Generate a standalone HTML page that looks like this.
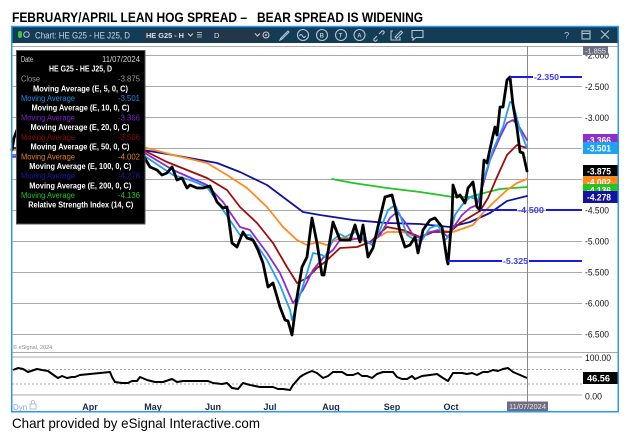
<!DOCTYPE html>
<html><head><meta charset="utf-8"><style>
html,body{margin:0;padding:0;background:#fff;}
svg{display:block;}
text{font-family:"Liberation Sans",Arial,sans-serif;}
</style></head><body>
<svg width="636" height="443" viewBox="0 0 636 443" xmlns="http://www.w3.org/2000/svg">
<rect width="636" height="443" fill="#fff"/>
<!-- Title -->
<text x="12" y="22" font-size="14" font-weight="bold" fill="#000" textLength="235" lengthAdjust="spacingAndGlyphs">FEBRUARY/APRIL LEAN HOG SPREAD –</text>
<text x="257" y="22" font-size="14" font-weight="bold" fill="#000" textLength="166" lengthAdjust="spacingAndGlyphs">BEAR SPREAD IS WIDENING</text>

<!-- window -->
<rect x="12" y="26.5" width="606" height="385" fill="#fff"/>
<rect x="12" y="26.5" width="606" height="16.5" fill="#133d57"/>

<!-- header content -->
<rect x="18" y="31" width="4" height="7" rx="2" fill="#39c739"/>
<circle cx="26.5" cy="34.5" r="2.8" fill="none" stroke="#b7c4cf" stroke-width="1"/>
<text x="35" y="38.3" font-size="9.5" fill="#c8d5de" textLength="95" lengthAdjust="spacingAndGlyphs">Chart: HE G25 - HE J25, D</text>
<rect x="143" y="29" width="63" height="12" fill="#22374a"/>
<text x="146" y="37.8" font-size="7.5" font-weight="bold" fill="#d8e0e8" textLength="38" lengthAdjust="spacingAndGlyphs">HE G25 - H</text>
<path d="M188 33.5 l2.5 2.5 l2.5 -2.5" fill="none" stroke="#c8d5de" stroke-width="1"/>
<path d="M197 32.5 h5 M197 34.8 h5 M197 37 h5" stroke="#c8d5de" stroke-width="0.8"/>
<rect x="210" y="29" width="60" height="12" fill="#22374a"/>
<text x="214" y="37.8" font-size="7.5" fill="#d8e0e8">D</text>
<path d="M255 33.5 l2.5 2.5 l2.5 -2.5" fill="none" stroke="#c8d5de" stroke-width="1"/>
<circle cx="266" cy="35" r="3" fill="none" stroke="#c8d5de" stroke-width="1"/>
<circle cx="266" cy="35" r="1" fill="#c8d5de"/>
<g fill="none" stroke="#b7c4cf" stroke-width="1.1">
<path d="M280 40 l2 -1 l7 -7 l-1 -1 l-7 7 z"/>
<circle cx="303" cy="35" r="5.5"/>
<path d="M299.5 36 q1.5 -3 3 0 q1.5 3 3 0"/>
<circle cx="322" cy="35" r="5.5"/>
<circle cx="341" cy="35" r="5.5"/>
<circle cx="359.5" cy="35" r="5.5"/>
<path d="M374 39 l3 -3 M379 34 l3 -3 M375.5 37.5 l-1.5 1.5 a1.5 1.5 0 0 0 2 2 l1.5 -1.5 M380.5 32.5 l1.5 -1.5 a1.5 1.5 0 0 1 2 2 l-1.5 1.5"/>
<path d="M393 31 h-2 v9 h9 v-3 M395 37 l6 -6 l1.5 1.5 l-6 6 z"/>
<path d="M412 30.5 h11 v7 h-7 l-3 2.5 v-2.5 h-1 z"/>
<text x="564" y="38.5" font-size="9.5" fill="#b7c4cf" stroke="none">?</text>
<rect x="582" y="31" width="8" height="8"/>
<path d="M582 33.5 h8"/>
<path d="M601 30.5 l8 8 M609 30.5 l-8 8"/>
</g>
<text x="319.6" y="37.6" font-size="6" font-weight="bold" fill="#b7c4cf">B</text>
<text x="338.8" y="37.6" font-size="6" font-weight="bold" fill="#b7c4cf">T</text>
<text x="357.3" y="37.6" font-size="6" font-weight="bold" fill="#b7c4cf">A</text>

<!-- gridlines main -->
<g stroke="#a9a9a9" stroke-width="1">
<line x1="12" y1="46.5" x2="618" y2="46.5"/>
<line x1="12" y1="55.5" x2="582" y2="55.5"/>
<line x1="12" y1="86.5" x2="582" y2="86.5"/>
<line x1="12" y1="117.5" x2="582" y2="117.5"/>
<line x1="12" y1="148.5" x2="582" y2="148.5"/>
<line x1="12" y1="179.5" x2="582" y2="179.5"/>
<line x1="12" y1="210.5" x2="582" y2="210.5"/>
<line x1="12" y1="241.5" x2="582" y2="241.5"/>
<line x1="12" y1="272.5" x2="582" y2="272.5"/>
<line x1="12" y1="303.5" x2="582" y2="303.5"/>
<line x1="12" y1="334.5" x2="582" y2="334.5"/>
<line x1="12" y1="352.5" x2="618" y2="352.5"/>
<line x1="12" y1="357" x2="582" y2="357"/>
<line x1="12" y1="395" x2="582" y2="395"/>
</g>
<g stroke="#aaaaaa" stroke-width="1" stroke-dasharray="2,2">
<line x1="12" y1="369.5" x2="582" y2="369.5"/>
<line x1="12" y1="384" x2="582" y2="384"/>
</g>
<line x1="527.5" y1="46" x2="527.5" y2="402" stroke="#8a8a8a" stroke-width="1"/>

<text x="13" y="349" font-size="5.5" fill="#888">© eSignal, 2024</text>

<!-- MAs -->
<g fill="none" stroke-linejoin="round" stroke-linecap="round">
<polyline stroke="#21c421" stroke-width="1.8" points="332,179 353,183 387,188 420,192 453,197 470,197 480,194 500,189 527,187"/>
<polyline stroke="#12129e" stroke-width="1.8" points="12,148 143,150 173,155 217,163 240,172 267,185 287,200 303,212 320,215 340,218 353,220 387,223 420,224 450,227 470,222 490,213 507,201 527,196"/>
<polyline stroke="#ff8a1c" stroke-width="1.8" points="12,150 143,147 173,155 207,163 227,175 247,188 267,207 283,227 297,240 307,245 317,242 327,245 340,238 353,238 370,242 387,232 403,232 420,238 437,230 453,232 473,225 483,213 493,203 507,190 517,183 527,179"/>
<polyline stroke="#a00c0c" stroke-width="1.8" points="12,155 143,150 167,162 207,178 227,190 240,207 257,223 273,243 287,267 297,283 307,278 317,268 325,262 340,248 357,247 370,242 387,227 403,230 420,237 433,232 450,232 460,223 470,217 480,211 488,198 497,177 507,155 517,145 527,148"/>
<polyline stroke="#8a2bd8" stroke-width="1.8" points="12,157 143,152 173,170 207,185 223,202 240,227 250,230 267,253 280,273 293,303 303,290 313,270 323,258 333,250 340,240 350,240 360,238 370,243 380,235 390,218 397,212 405,222 413,235 420,238 430,232 440,230 448,237 455,225 462,215 470,208 477,205 483,185 490,160 500,137 507,123 513,120 520,128 527,140"/>
<polyline stroke="#1ea2f2" stroke-width="1.8" points="12,155 143,155 173,175 190,180 207,187 223,210 240,235 250,235 267,260 280,285 290,310 292,320 300,295 307,273 313,253 322,255 325,257 333,240 340,234 345,237 355,232 365,240 372,245 380,230 388,210 395,205 400,215 407,235 415,240 422,240 430,228 438,225 445,240 450,235 455,215 462,205 470,197 478,200 485,175 493,150 503,127 510,102 513,103 520,130 527,148"/>
<polyline stroke="#000" stroke-width="2.8" points="12,150 14,138 17,130 60,140 100,150 143,155 150,167 157,170 162,175 167,173 172,167 174,172 177,180 182,178 187,188 190,185 197,188 203,188 210,186 217,202 223,208 227,207 232,243 237,247 243,232 247,238 253,240 258,250 263,263 268,287 273,283 280,307 285,320 288,321 292,335 297,297 302,267 307,257 312,218 317,243 322,275 324,275 327,258 333,222 340,240 350,240 355,225 360,242 363,225 368,257 373,248 380,218 385,197 392,195 395,207 400,232 405,247 410,245 415,237 418,253 423,230 430,220 435,218 442,227 447,260 448,264 452,217 453,185 457,197 460,195 465,203 468,188 473,182 477,207 480,210 484,160 487,163 492,140 495,127 497,135 500,107 503,107 507,80 510,77 513,105 517,128 520,152 523,153 527,171"/>
</g>

<!-- annotation lines -->
<g stroke="#1a1ae6" stroke-width="2">
<line x1="510" y1="77" x2="533" y2="77"/>
<line x1="560" y1="77" x2="582" y2="77"/>
<line x1="480" y1="210" x2="517" y2="210"/>
<line x1="546" y1="210" x2="582" y2="210"/>
<line x1="448" y1="261" x2="502" y2="261"/>
<line x1="529" y1="261" x2="582" y2="261"/>
</g>
<g font-size="8.5" font-weight="bold" fill="#3a3af0">
<text x="534" y="80" textLength="25" lengthAdjust="spacingAndGlyphs">-2.350</text>
<text x="518" y="213" textLength="26" lengthAdjust="spacingAndGlyphs">-4.500</text>
<text x="503" y="264" textLength="25" lengthAdjust="spacingAndGlyphs">-5.325</text>
</g>

<!-- RSI -->
<polyline fill="none" stroke="#000" stroke-width="2" stroke-linejoin="round" points="13,370 18,368 23,369 28,372 37,369 42,370 48,371 55,376 58,378 62,376 67,378 72,377 75,377 80,375 90,374 100,373 110,372 112,377 115,382 122,383 128,383 132,381 137,381 140,377 147,380 155,382 163,382 172,379 177,382 183,381 192,381 200,381 208,381 213,383 222,384 227,383 232,388 238,389 243,383 250,385 260,387 267,387 273,387 278,389 283,389 290,390 293,385 300,377 303,375 307,373 312,371 317,373 323,378 328,376 333,372 342,372 347,375 353,375 358,373 362,376 367,376 372,378 377,374 383,372 393,372 397,377 402,379 407,379 412,376 415,379 422,376 430,375 437,374 443,378 448,381 453,373 462,373 467,374 472,373 477,375 483,372 488,372 493,370 498,371 503,369 508,368 513,372 520,375 527,378"/>

<!-- right axis labels -->
<g font-size="9" fill="#111">
<text x="585" y="58.5" textLength="24" lengthAdjust="spacingAndGlyphs">-2.000</text>
<text x="585" y="90" textLength="24" lengthAdjust="spacingAndGlyphs">-2.500</text>
<text x="585" y="121" textLength="24" lengthAdjust="spacingAndGlyphs">-3.000</text>
<text x="585" y="213.5" textLength="24" lengthAdjust="spacingAndGlyphs">-4.500</text>
<text x="585" y="244.5" textLength="24" lengthAdjust="spacingAndGlyphs">-5.000</text>
<text x="585" y="275.5" textLength="24" lengthAdjust="spacingAndGlyphs">-5.500</text>
<text x="585" y="306.5" textLength="24" lengthAdjust="spacingAndGlyphs">-6.000</text>
<text x="585" y="337.5" textLength="24" lengthAdjust="spacingAndGlyphs">-6.500</text>
<text x="585" y="361" textLength="26" lengthAdjust="spacingAndGlyphs">100.00</text>
<text x="585" y="399.5" textLength="17" lengthAdjust="spacingAndGlyphs">0.00</text>
</g>
<rect x="583" y="46" width="25" height="9" fill="#6d6d80"/>
<text x="585" y="53.5" font-size="7.5" fill="#e8e8f0" textLength="21" lengthAdjust="spacingAndGlyphs">-1.855</text>

<g font-size="9" fill="#fff" font-weight="bold">
<rect x="583" y="134" width="35" height="12" fill="#8d2fcf"/>
<text x="587" y="143.5" textLength="24" lengthAdjust="spacingAndGlyphs">-3.366</text>
<rect x="583" y="142" width="35" height="12" fill="#1ea2f2"/>
<text x="587" y="151.5" textLength="24" lengthAdjust="spacingAndGlyphs">-3.501</text>
<rect x="583" y="165" width="35" height="12" fill="#000"/>
<text x="587" y="174.5" textLength="24" lengthAdjust="spacingAndGlyphs">-3.875</text>
<rect x="583" y="176" width="35" height="12" fill="#ff8a1c"/>
<text x="587" y="185.5" textLength="24" lengthAdjust="spacingAndGlyphs">-4.002</text>
<rect x="583" y="184" width="35" height="12" fill="#21c421"/>
<text x="587" y="193.5" textLength="24" lengthAdjust="spacingAndGlyphs">-4.136</text>
<rect x="583" y="191" width="35" height="12" fill="#12129e"/>
<text x="587" y="200.5" textLength="24" lengthAdjust="spacingAndGlyphs">-4.278</text>
<rect x="583" y="372" width="35" height="12" fill="#000"/>
<text x="587" y="381.5" textLength="23" lengthAdjust="spacingAndGlyphs">46.56</text>
</g>

<!-- x axis -->
<g font-size="9" font-weight="bold" fill="#1b2a48" text-anchor="middle">
<text x="90" y="410">Apr</text>
<text x="153" y="410">May</text>
<text x="213" y="410">Jun</text>
<text x="270" y="410">Jul</text>
<text x="331" y="410">Aug</text>
<text x="392" y="410">Sep</text>
<text x="451" y="410">Oct</text>
</g>
<text x="13" y="410" font-size="8" fill="#8fa6cc">Dyn</text>
<rect x="30" y="404" width="6" height="5" fill="none" stroke="#9fb2d2" stroke-width="0.8"/>
<path d="M31.5 404 v-2 a1.5 1.5 0 0 1 3 0 v2" fill="none" stroke="#9fb2d2" stroke-width="0.8"/>
<rect x="507" y="401.5" width="41" height="9.5" fill="#6d6d80"/>
<text x="509" y="409.2" font-size="7.5" fill="#e8e8f0" textLength="37" lengthAdjust="spacingAndGlyphs">11/07/2024</text>

<!-- tooltip -->
<rect x="16.5" y="50.5" width="128.5" height="173.5" fill="#000" stroke="#555" stroke-width="1"/>
<g font-size="8" lengthAdjust="spacingAndGlyphs">
<text x="21" y="62" fill="#d8d8d8" textLength="12" lengthAdjust="spacingAndGlyphs">Date</text>
<text x="102" y="62" fill="#d8d8d8" textLength="38" lengthAdjust="spacingAndGlyphs">11/07/2024</text>
<text x="49" y="71.5" fill="#fff" font-weight="bold" textLength="63" lengthAdjust="spacingAndGlyphs">HE G25 - HE J25, D</text>
<text x="21" y="81.5" fill="#9a9a9a" textLength="19" lengthAdjust="spacingAndGlyphs">Close</text>
<text x="118" y="81.5" fill="#9a9a9a" textLength="22" lengthAdjust="spacingAndGlyphs">-3.875</text>
<text x="33" y="91.5" fill="#fff" font-weight="bold" textLength="95" lengthAdjust="spacingAndGlyphs">Moving Average (E, 5, 0, C)</text>
<text x="21" y="101" fill="#1a8fe8" textLength="54" lengthAdjust="spacingAndGlyphs">Moving Average</text>
<text x="118" y="101" fill="#1a8fe8" textLength="22" lengthAdjust="spacingAndGlyphs">-3.501</text>
<text x="31.5" y="110.7" fill="#fff" font-weight="bold" textLength="98" lengthAdjust="spacingAndGlyphs">Moving Average (E, 10, 0, C)</text>
<text x="21" y="120.5" fill="#7b22c8" textLength="54" lengthAdjust="spacingAndGlyphs">Moving Average</text>
<text x="118" y="120.5" fill="#7b22c8" textLength="22" lengthAdjust="spacingAndGlyphs">-3.366</text>
<text x="30.5" y="130" fill="#fff" font-weight="bold" textLength="99" lengthAdjust="spacingAndGlyphs">Moving Average (E, 20, 0, C)</text>
<text x="21" y="140" fill="#8e0a0a" textLength="54" lengthAdjust="spacingAndGlyphs">Moving Average</text>
<text x="118" y="140" fill="#8e0a0a" textLength="22" lengthAdjust="spacingAndGlyphs">-3.506</text>
<text x="30.5" y="149.5" fill="#fff" font-weight="bold" textLength="99" lengthAdjust="spacingAndGlyphs">Moving Average (E, 50, 0, C)</text>
<text x="21" y="159.3" fill="#e8801a" textLength="54" lengthAdjust="spacingAndGlyphs">Moving Average</text>
<text x="118" y="159.3" fill="#e8801a" textLength="22" lengthAdjust="spacingAndGlyphs">-4.002</text>
<text x="29.3" y="169" fill="#fff" font-weight="bold" textLength="102" lengthAdjust="spacingAndGlyphs">Moving Average (E, 100, 0, C)</text>
<text x="21" y="178.7" fill="#1a1aa8" textLength="54" lengthAdjust="spacingAndGlyphs">Moving Average</text>
<text x="118" y="178.7" fill="#1a1aa8" textLength="22" lengthAdjust="spacingAndGlyphs">-4.278</text>
<text x="29.3" y="188.3" fill="#fff" font-weight="bold" textLength="102" lengthAdjust="spacingAndGlyphs">Moving Average (E, 200, 0, C)</text>
<text x="21" y="198" fill="#22c322" textLength="54" lengthAdjust="spacingAndGlyphs">Moving Average</text>
<text x="118" y="198" fill="#22c322" textLength="22" lengthAdjust="spacingAndGlyphs">-4.136</text>
<text x="28.3" y="207.7" fill="#fff" font-weight="bold" textLength="105" lengthAdjust="spacingAndGlyphs">Relative Strength Index (14, C)</text>
</g>

<!-- window border -->
<rect x="11.75" y="26.5" width="606.5" height="385.25" fill="none" stroke="#2a9af0" stroke-width="1.5"/>

<!-- footer -->
<text x="12" y="428" font-size="14" fill="#000" textLength="248" lengthAdjust="spacingAndGlyphs">Chart provided by eSignal Interactive.com</text>
</svg>
</body></html>
